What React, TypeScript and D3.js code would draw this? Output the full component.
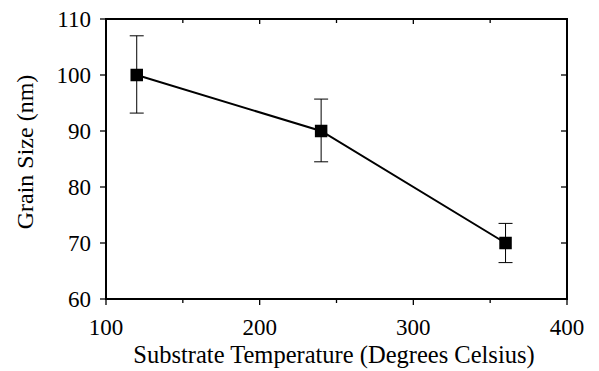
import React from "react";
import * as d3 from "d3";

const temps = [120, 240, 360];
const grain = [100, 90, 70];
const errLow = [93.2, 84.5, 66.5];
const errHigh = [107, 95.7, 73.5];
const xTicks = [100, 200, 300, 400];
const xMinor = [150, 250, 350];
const yTicks = [60, 70, 80, 90, 100, 110];

export default function App() {
  const W = 599, H = 371;
  const L = 106, R = 567, T = 19, B = 299;
  const x = d3.scaleLinear().domain([100, 400]).range([L, R]);
  const y = d3.scaleLinear().domain([60, 110]).range([B, T]);
  const line = d3.line<number>().x((_, i) => x(temps[i])).y((d) => y(d));
  const font = "'Liberation Serif', 'Times New Roman', serif";
  const ms = 12.5;
  return (
    <svg width={W} height={H} style={{ position: "absolute", left: 0, top: 0, background: "#fff" }}>
      <rect x={0} y={0} width={W} height={H} fill="#fff" />
      <g stroke="#000" strokeWidth={1.3}>
        {xTicks.map((t) => (
          <g key={"x" + t}>
            <line x1={x(t)} x2={x(t)} y1={B} y2={B + 6} />
            <line x1={x(t)} x2={x(t)} y1={T} y2={T + 5} />
          </g>
        ))}
        {xMinor.map((t) => (
          <g key={"m" + t}>
            <line x1={x(t)} x2={x(t)} y1={B} y2={B + 4} />
            <line x1={x(t)} x2={x(t)} y1={T} y2={T + 4} />
          </g>
        ))}
        {yTicks.map((t) => (
          <g key={"y" + t}>
            <line x1={L - 6} x2={L} y1={y(t)} y2={y(t)} />
            <line x1={R - 6} x2={R} y1={y(t)} y2={y(t)} />
          </g>
        ))}
      </g>
      <rect x={L} y={T} width={R - L} height={B - T} fill="none" stroke="#000" strokeWidth={2} />
      <g fontFamily={font} fill="#000">
        {xTicks.map((t) => (
          <text key={"xl" + t} x={x(t)} y={B + 35.5} fontSize={23} textAnchor="middle">{t}</text>
        ))}
        {yTicks.map((t) => (
          <text key={"yl" + t} x={L - 15} y={y(t) + 8} fontSize={23} textAnchor="end">{t}</text>
        ))}
        <text x={334} y={363} fontSize={24.5} textAnchor="middle">Substrate Temperature (Degrees Celsius)</text>
        <text transform={`translate(33,152) rotate(-90)`} fontSize={24} textAnchor="middle">Grain Size (nm)</text>
      </g>
      <g stroke="#000" strokeWidth={1}>
        {temps.map((t, i) => (
          <g key={"e" + i}>
            <line x1={x(t)} x2={x(t)} y1={y(errLow[i])} y2={y(errHigh[i])} />
            <line x1={x(t) - 7} x2={x(t) + 7} y1={y(errLow[i])} y2={y(errLow[i])} />
            <line x1={x(t) - 7} x2={x(t) + 7} y1={y(errHigh[i])} y2={y(errHigh[i])} />
          </g>
        ))}
      </g>
      <path d={line(grain) || ""} fill="none" stroke="#000" strokeWidth={2} />
      {temps.map((t, i) => (
        <rect key={"p" + i} x={x(t) - ms / 2} y={y(grain[i]) - ms / 2} width={ms} height={ms} fill="#000" />
      ))}
    </svg>
  );
}
